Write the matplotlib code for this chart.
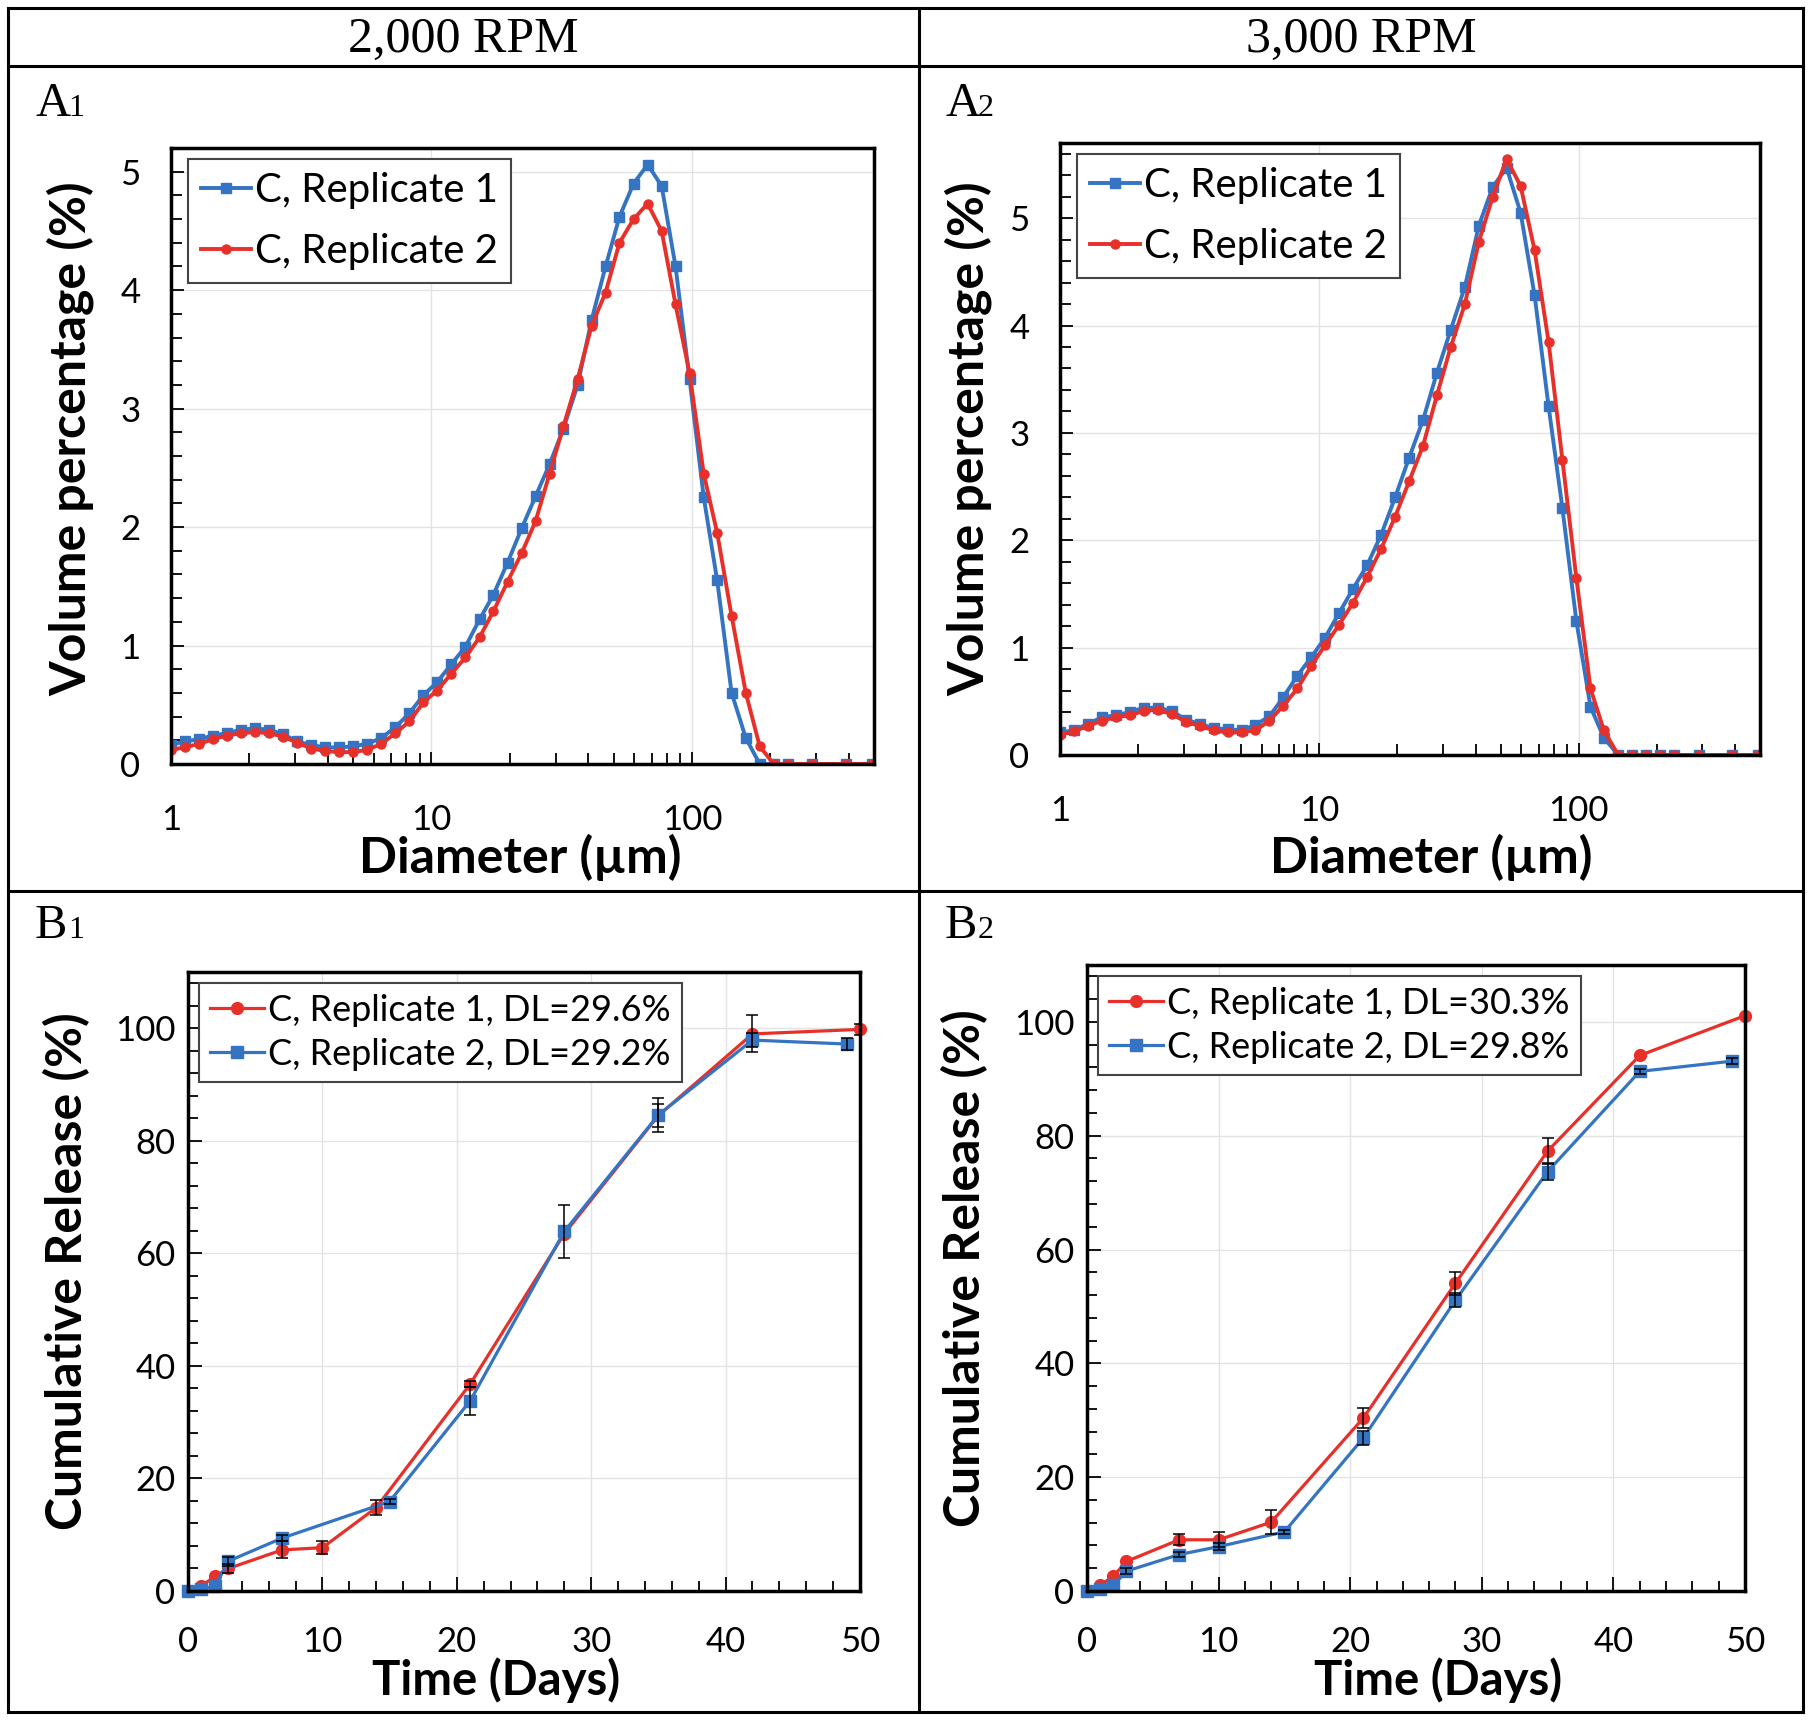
import matplotlib
matplotlib.use('Agg')
import matplotlib.pyplot as plt
from matplotlib.lines import Line2D
from matplotlib.ticker import MultipleLocator, FixedLocator, LogLocator, NullFormatter
import numpy as np

W, H = 1810, 1721

# particle size bins (um)
size_um = [1.00, 1.13, 1.28, 1.45, 1.64, 1.86, 2.10, 2.38, 2.70, 3.05,
           3.46, 3.91, 4.43, 5.01, 5.67, 6.42, 7.27, 8.23, 9.31, 10.5,
           11.9, 13.5, 15.3, 17.3, 19.6, 22.2, 25.1, 28.4, 32.1, 36.4,
           41.2, 46.6, 52.7, 59.7, 67.6, 76.5, 86.5, 97.9, 111, 125,
           142, 161, 182, 206, 233, 290, 390, 490]

# A1 : 2,000 RPM size distribution
a1_rep1 = [0.16, 0.19, 0.21, 0.24, 0.26, 0.29, 0.30, 0.29, 0.25, 0.19,
           0.16, 0.14, 0.14, 0.15, 0.17, 0.22, 0.31, 0.43, 0.58, 0.69,
           0.84, 0.99, 1.22, 1.43, 1.70, 1.99, 2.26, 2.53, 2.83, 3.20,
           3.75, 4.20, 4.62, 4.90, 5.06, 4.88, 4.20, 3.25, 2.25, 1.55,
           0.60, 0.22, 0.00, 0.00, 0.00, 0.00, 0.00, 0.00]
a1_rep2 = [0.12, 0.14, 0.17, 0.21, 0.24, 0.26, 0.27, 0.26, 0.23, 0.18,
           0.13, 0.11, 0.10, 0.10, 0.12, 0.17, 0.26, 0.36, 0.52, 0.62,
           0.76, 0.90, 1.07, 1.29, 1.54, 1.78, 2.05, 2.45, 2.85, 3.25,
           3.70, 3.98, 4.40, 4.60, 4.73, 4.50, 3.88, 3.30, 2.45, 1.95,
           1.25, 0.60, 0.15, 0.00, 0.00, 0.00, 0.00, 0.00]

# A2 : 3,000 RPM size distribution
a2_rep1 = [0.21, 0.23, 0.29, 0.35, 0.37, 0.40, 0.44, 0.44, 0.41, 0.33,
           0.29, 0.25, 0.24, 0.23, 0.28, 0.36, 0.54, 0.74, 0.91, 1.09,
           1.32, 1.55, 1.77, 2.05, 2.40, 2.77, 3.12, 3.56, 3.96, 4.36,
           4.93, 5.29, 5.47, 5.05, 4.28, 3.25, 2.30, 1.25, 0.45, 0.16,
           0.00, 0.00, 0.00, 0.00, 0.00, 0.00, 0.00, 0.00]
a2_rep2 = [0.19, 0.22, 0.27, 0.32, 0.35, 0.37, 0.41, 0.42, 0.38, 0.31,
           0.27, 0.23, 0.21, 0.21, 0.23, 0.32, 0.46, 0.62, 0.83, 1.02,
           1.21, 1.42, 1.66, 1.92, 2.22, 2.55, 2.88, 3.35, 3.80, 4.20,
           4.78, 5.20, 5.55, 5.30, 4.70, 3.85, 2.75, 1.65, 0.62, 0.23,
           0.00, 0.00, 0.00, 0.00, 0.00, 0.00, 0.00, 0.00]

# B1 : 2,000 RPM release
b1_t1 = [0, 1, 2, 3, 7, 10, 14, 21, 28, 35, 42, 50]
b1_y1 = [0, 0.9, 2.6, 4.0, 7.3, 7.7, 14.8, 36.8, 63.5, 84.5, 99.0, 99.8]
b1_e1 = [0, 0, 0, 0.8, 1.5, 1.2, 1.3, 0.5, 0, 2.0, 3.3, 1.0]
b1_t2 = [0, 1, 2, 3, 7, 15, 21, 28, 35, 42, 49]
b1_y2 = [0, 0.3, 0.8, 5.3, 9.4, 15.9, 33.8, 63.9, 84.6, 97.9, 97.2]
b1_e2 = [0, 0, 0, 0.8, 0.6, 0.4, 2.5, 4.7, 3.0, 1.2, 1.0]

# B2 : 3,000 RPM release
b2_t1 = [0, 1, 2, 3, 7, 10, 14, 21, 28, 35, 42, 50]
b2_y1 = [0, 1.0, 2.6, 5.2, 9.0, 9.0, 12.1, 30.4, 54.1, 77.3, 94.1, 101.1]
b2_e1 = [0, 0, 0, 0, 1.0, 1.3, 2.1, 1.7, 2.0, 2.3, 0, 0]
b2_t2 = [0, 1, 2, 3, 7, 10, 15, 21, 28, 35, 42, 49]
b2_y2 = [0, 0.3, 1.0, 3.5, 6.4, 7.8, 10.4, 26.9, 51.1, 73.7, 91.3, 93.1]
b2_e2 = [0, 0, 0, 0.5, 0.5, 0.6, 0.4, 1.2, 1.2, 1.5, 0.5, 0.5]

BLUE = '#3474C2'
RED = '#E8302A'

plt.rcParams['font.family'] = ['Lato', 'DejaVu Sans']

fig = plt.figure(figsize=(W / 100, H / 100), dpi=100)


def fx(x):
    return x / W


def fy(y):
    return 1 - y / H


def rect(l, t, r, b):
    return [l / W, 1 - b / H, (r - l) / W, (b - t) / H]


# table grid
for x0, y0, x1, y1 in [(8, 8, 1803, 8), (8, 66, 1803, 66), (8, 891, 1803, 891),
                       (8, 1712, 1803, 1712), (8, 8, 8, 1712), (1803, 8, 1803, 1712),
                       (919, 8, 919, 1712)]:
    fig.add_artist(Line2D([fx(x0), fx(x1)], [fy(y0), fy(y1)],
                          transform=fig.transFigure, color='k', lw=2.2))

serif = 'Liberation Serif'
fig.text(fx(463), fy(40), '2,000 RPM', family=serif, fontsize=36, ha='center', va='center')
fig.text(fx(1361), fy(40), '3,000 RPM', family=serif, fontsize=36, ha='center', va='center')
for lx, by, letter, num in [(35, 116, 'A', '1'), (945, 116, 'A', '2'),
                            (35, 938, 'B', '1'), (945, 938, 'B', '2')]:
    fig.text(fx(lx), fy(by), letter, family=serif, fontsize=35, ha='left', va='baseline')
    fig.text(fx(lx + 33), fy(by), num, family=serif, fontsize=23, ha='left', va='baseline')


def style(ax):
    for s in ax.spines.values():
        s.set_linewidth(2.5)
        s.set_color('black')
    ax.grid(True, which='major', color='#e3e3e3', lw=1.0)
    ax.set_axisbelow(True)
    ax.tick_params(which='both', direction='in', top=False, right=False,
                   width=1.3, labelsize=25, colors='black')


def size_panel(rc, r1, r2, ytop, ylab_x, xlab_dx, xlab_y):
    ax = fig.add_axes(rect(*rc))
    style(ax)
    ax.set_xscale('log')
    ax.plot(size_um, r1, color=BLUE, lw=2.8, marker='s', ms=7, label='C, Replicate 1')
    ax.plot(size_um, r2, color=RED, lw=2.8, marker='o', ms=6.5, label='C, Replicate 2')
    ax.set_xlim(1, 500)
    ax.set_ylim(0, ytop)
    ax.xaxis.set_major_locator(FixedLocator([1, 10, 100]))
    ax.set_xticklabels(['1', '10', '100'])
    ax.xaxis.set_minor_locator(LogLocator(base=10, subs=np.arange(2, 10)))
    ax.xaxis.set_minor_formatter(NullFormatter())
    ax.yaxis.set_major_locator(MultipleLocator(1))
    ax.yaxis.set_minor_locator(MultipleLocator(0.2))
    ax.tick_params(axis='x', which='both', pad=29)
    ax.tick_params(axis='y', which='both', pad=22)
    ax.tick_params(which='major', length=9)
    ax.tick_params(which='minor', length=8)
    l, t, r, b = rc
    leg = ax.legend(loc='upper left', bbox_to_anchor=(17 / (r - l), 1 - 11 / (b - t)),
                    borderaxespad=0, fontsize=29, frameon=True, fancybox=False,
                    edgecolor='#444444', framealpha=1, handlelength=1.25,
                    handletextpad=0.1, labelspacing=0.6, borderpad=0.32)
    leg.get_frame().set_linewidth(1.5)
    fig.text(fx(ylab_x), fy(439), 'Volume percentage (%)', rotation=90,
             fontsize=36, fontweight='bold', ha='center', va='center')
    fig.text(fx((l + r) / 2 + xlab_dx), fy(xlab_y), 'Diameter (\u00b5m)',
             fontsize=36, fontweight='bold', ha='center', va='center')
    return ax


def release_panel(rc, series, ylab_x, xlab_dx, xlab_y):
    ax = fig.add_axes(rect(*rc))
    style(ax)
    for t, y, e, color, mk, lab in series:
        ax.plot(t, y, color=color, lw=2.3, marker=mk, ms=8.5, label=lab, clip_on=False)
    for t, y, e, color, mk, lab in series:
        ta, ya, ea = np.array(t), np.array(y), np.array(e)
        m = ea > 0
        ax.errorbar(ta[m], ya[m], yerr=ea[m], fmt='none', ecolor='black',
                    elinewidth=1.1, capsize=4, capthick=1.1, zorder=4)
    ax.set_xlim(0, 50)
    ax.set_ylim(0, 110)
    ax.xaxis.set_major_locator(MultipleLocator(10))
    ax.xaxis.set_minor_locator(MultipleLocator(2))
    ax.yaxis.set_major_locator(MultipleLocator(20))
    ax.yaxis.set_minor_locator(MultipleLocator(4))
    ax.tick_params(axis='x', which='both', pad=25)
    ax.tick_params(axis='y', which='both', pad=9)
    ax.tick_params(which='major', length=10)
    ax.tick_params(which='minor', length=7)
    l, t, r, b = rc
    leg = ax.legend(loc='upper left', bbox_to_anchor=(11 / (r - l), 1 - 11 / (b - t)),
                    borderaxespad=0, fontsize=26, frameon=True, fancybox=False,
                    edgecolor='#444444', framealpha=1, handlelength=1.5,
                    handletextpad=0.12, labelspacing=0.3, borderpad=0.3)
    leg.get_frame().set_linewidth(1.5)
    fig.text(fx(ylab_x), fy((t + b) / 2 - 10), 'Cumulative Release (%)', rotation=90,
             fontsize=36, fontweight='bold', ha='center', va='center')
    fig.text(fx((l + r) / 2 + xlab_dx), fy(xlab_y), 'Time (Days)',
             fontsize=34, fontweight='bold', ha='center', va='center')
    return ax


size_panel((171, 148, 874, 764), a1_rep1, a1_rep2, 5.2, 70, -2, 857)
size_panel((1060, 143, 1760, 755), a2_rep1, a2_rep2, 5.7, 968, 21, 857)

release_panel((188, 972, 860, 1591),
              [(b1_t1, b1_y1, b1_e1, RED, 'o', 'C, Replicate 1, DL=29.6%'),
               (b1_t2, b1_y2, b1_e2, BLUE, 's', 'C, Replicate 2, DL=29.2%')], 67, -28, 1680)
release_panel((1087, 965, 1745, 1591),
              [(b2_t1, b2_y1, b2_e1, RED, 'o', 'C, Replicate 1, DL=30.3%'),
               (b2_t2, b2_y2, b2_e2, BLUE, 's', 'C, Replicate 2, DL=29.8%')], 965, 22, 1680)

fig.savefig('out.png', dpi=100)
